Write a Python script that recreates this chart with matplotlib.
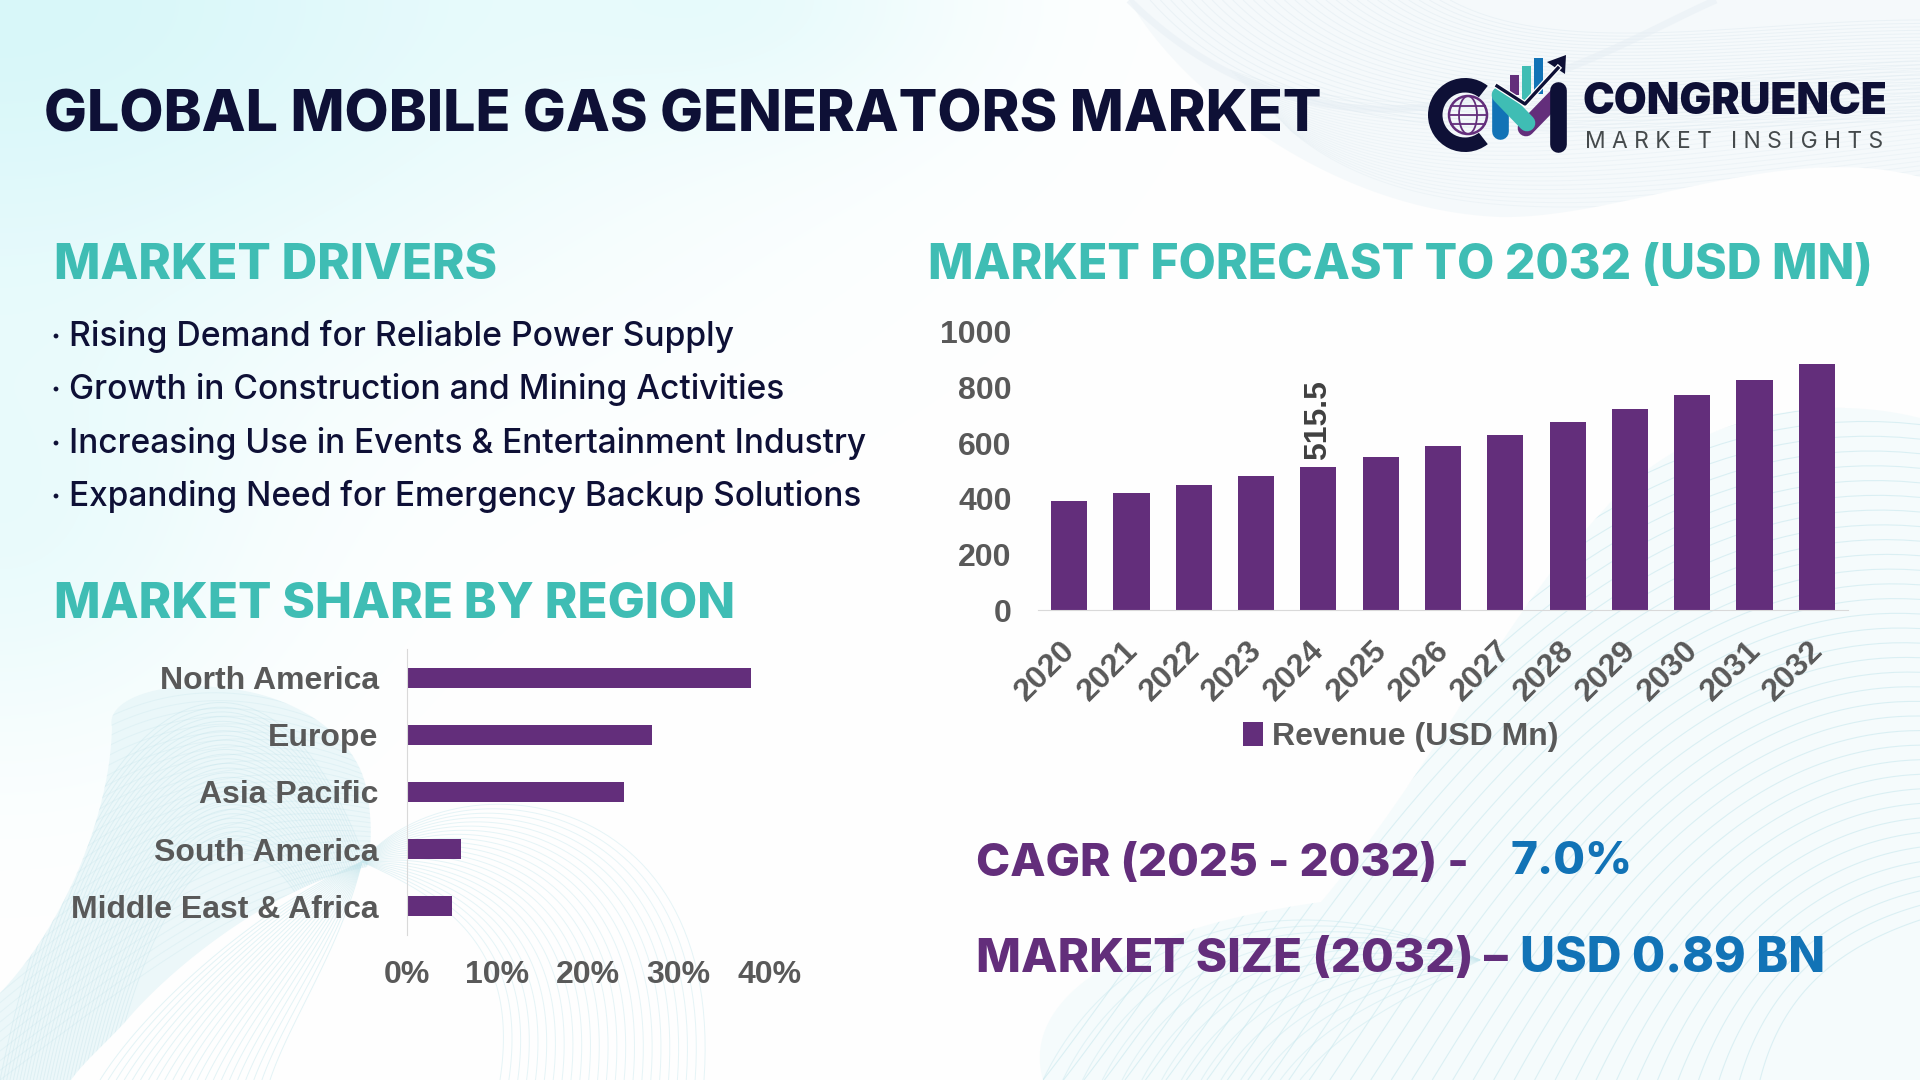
#!/usr/bin/env python3
# -*- coding: utf-8 -*-
"""Global mobile gas generators market infographic."""
import matplotlib
matplotlib.use("Agg")
import matplotlib.pyplot as plt
import matplotlib.transforms as mtrans
import numpy as np
from matplotlib.collections import LineCollection
from matplotlib.patches import Circle, Ellipse, Polygon, Rectangle, Wedge

TITLE = "GLOBAL MOBILE GAS GENERATORS MARKET"
DRIVERS = [
    "Rising Demand for Reliable Power Supply",
    "Growth in Construction and Mining Activities",
    "Increasing Use in Events & Entertainment Industry",
    "Expanding Need for Emergency Backup Solutions",
]
YEARS = [2020, 2021, 2022, 2023, 2024, 2025, 2026, 2027, 2028, 2029, 2030, 2031, 2032]
REVENUE = [392, 421, 450, 482, 515.5, 550, 590, 629, 676, 723, 773, 827, 885]
REGIONS = ["North America", "Europe", "Asia Pacific", "South America", "Middle East & Africa"]
SHARES = [38, 27, 24, 6, 5]

W, H = 1920, 1080
PURPLE = "#632e7b"
TEAL = "#3fbdb4"
NAVY = "#0e1036"
BLUE = "#1273b6"
GREY = "#595959"
HEAD_FONT = "Inter"
CHART_FONT = "Liberation Sans"
CHART_SIZE = 23


def axes_px(fig, left, top, right, bottom):
    """Axes placed by pixel edges, y measured from the top of the image."""
    return fig.add_axes([left / W, 1 - bottom / H, (right - left) / W, (bottom - top) / H])


def fit_text(ax, x, yc, s, width, **kw):
    """Left aligned text, font size scaled so the text is `width` pixels wide."""
    t = ax.text(x, yc, s, ha="left", va="center_baseline", fontsize=30, **kw)
    ext = t.get_window_extent(ax.figure.canvas.get_renderer())
    t.set_fontsize(30 * width / ext.width)
    return t


def bezier(p):
    p = np.array(p, float)
    u = np.linspace(0, 1, 60)[:, None]
    return ((1 - u) ** 3 * p[0] + 3 * (1 - u) ** 2 * u * p[1]
            + 3 * (1 - u) * u ** 2 * p[2] + u ** 3 * p[3])


def outline(*segments):
    return np.vstack([bezier(s) for s in segments])


def mesh(ax, a, b, n, color, alpha, lw=0.7, clip=None):
    """Decorative ribbon: cubic Bezier curves blended between two outlines."""
    a, b = np.array(a, float), np.array(b, float)
    segs = [bezier(a * (1 - k) + b * k) for k in np.linspace(0, 1, n)]
    coll = LineCollection(segs, colors=color, alpha=alpha, linewidths=lw)
    ax.add_collection(coll)
    if clip is not None:
        coll.set_clip_path(clip)


def draw_background(fig):
    ax = fig.add_axes([0, 0, 1, 1], zorder=0)
    yy, xx = np.mgrid[0:H, 0:W]
    glow = (0.95 * np.exp(-((xx / 620.0) ** 2 + (yy / 340.0) ** 2))
            + 0.35 * np.exp(-(((xx - 760) / 220.0) ** 2 + (yy / 130.0) ** 2))
            + 0.45 * np.exp(-((xx / 260.0) ** 2 + ((yy - 540) / 220.0) ** 2)))
    glow = np.clip(glow, 0, 1)[..., None]
    img = 1 - glow * (1 - np.array(matplotlib.colors.to_rgb("#d6f7f9")))
    ax.imshow(img, extent=(0, W, H, 0), aspect="auto", zorder=0)
    ax.set_xlim(0, W)
    ax.set_ylim(H, 0)
    ax.axis("off")

    # top right ribbon
    top_edge = [(1129, 0), (1180, 90), (1330, 210), (1499, 217)]
    top_edge2 = [(1499, 217), (1620, 220), (1780, 140), (1920, 177)]
    fold = [(1129, 0), (1240, 110), (1380, 135), (1528, 83)]
    fold2 = [(1528, 83), (1610, 55), (1670, 20), (1716, 0)]
    pts = np.vstack([outline(top_edge, top_edge2), [(1920, 0)]])
    top = Polygon(pts, fc="#f5f9fb", ec="none", alpha=0.9)
    ax.add_patch(top)
    mesh(ax, [(1150, 0), (1300, 170), (1600, 130), (1920, 120)],
         [(1450, 0), (1560, 60), (1750, 20), (1920, 20)], 30, "#d6e4ec", 0.35, clip=top)
    mesh(ax, [(1290, 130), (1420, 240), (1640, 210), (1920, 175)],
         [(1230, 70), (1420, 140), (1640, 80), (1920, 60)], 26, "#d6e4ec", 0.25, clip=top)
    for seg in (fold, fold2):
        ax.add_collection(LineCollection([bezier(seg)], colors="#e6eef4", linewidths=5, alpha=0.5))

    # bottom left arches behind the ribbon
    mesh(ax, [(704, 1080), (725, 780), (450, 755), (362, 862)],
         [(500, 1080), (520, 950), (450, 900), (362, 862)], 24, "#cdeaef", 0.5)
    mesh(ax, [(362, 862), (270, 900), (150, 1000), (100, 1080)],
         [(362, 862), (340, 950), (290, 1020), (270, 1080)], 22, "#cdeaef", 0.55)

    # bottom left ribbon, clipped to its outline
    pts = np.vstack([outline(
        [(0, 993), (60, 930), (110, 820), (112, 727)],
        [(112, 727), (105, 700), (160, 680), (224, 688)],
        [(224, 688), (300, 695), (360, 740), (367, 793)],
        [(367, 793), (372, 820), (372, 845), (367, 867)],
        [(367, 867), (290, 880), (190, 950), (133, 1013)],
        [(133, 1013), (110, 1040), (85, 1060), (71, 1080)]), [(0, 1080)]])
    blob = Polygon(pts, fc="#e6f5f8", ec="none", alpha=0.75)
    ax.add_patch(blob)
    mesh(ax, [(0, 1080), (90, 640), (280, 600), (372, 880)],
         [(110, 1080), (160, 860), (240, 800), (300, 900)], 34, "#bfe1e9", 0.35, clip=blob)
    mesh(ax, [(0, 800), (120, 670), (260, 660), (400, 760)],
         [(0, 1080), (160, 960), (260, 880), (400, 870)], 30, "#bfe1e9", 0.25, clip=blob)

    # bottom right ribbon
    pts = np.vstack([outline(
        [(1043, 1080), (1020, 1000), (1120, 930), (1321, 902)],
        [(1321, 902), (1440, 760), (1500, 620), (1600, 514)],
        [(1600, 514), (1680, 420), (1810, 390), (1920, 418)]), [(1920, 1080)]])
    right = Polygon(pts, fc="#f4fbfc", ec="none", alpha=0.85)
    ax.add_patch(right)
    mesh(ax, [(1043, 1080), (1200, 880), (1500, 360), (1920, 410)],
         [(1760, 1080), (1780, 1000), (1830, 950), (1920, 920)], 36, "#c9e8ee", 0.6, 0.8, clip=right)
    mesh(ax, [(1043, 1080), (1120, 920), (1300, 880), (1480, 960)],
         [(1300, 1080), (1340, 1030), (1400, 1000), (1480, 960)], 14, "#c9e8ee", 0.45, 0.8, clip=right)


def draw_logo(ax):
    ax.add_patch(Wedge((1465, 115), 37, 52, 308, width=14.5, color=NAVY, lw=0))
    ax.add_patch(Circle((1468, 115), 19, fc="none", ec=PURPLE, lw=1.8))
    ax.add_patch(Ellipse((1468, 115), 18, 38, fc="none", ec=PURPLE, lw=1.3))
    for dy in (-9, 0, 9):
        half = np.sqrt(19 ** 2 - dy ** 2)
        ax.plot([1468 - half, 1468 + half], [115 + dy] * 2, color=PURPLE, lw=1.3)
    ax.add_patch(Rectangle((1510, 75), 9, 20, color=PURPLE, lw=0))
    ax.add_patch(Rectangle((1522, 66), 9, 36, color=TEAL, lw=0))
    ax.add_patch(Rectangle((1534, 58), 9, 36, color=BLUE, lw=0))
    ax.plot([1500, 1500], [95, 131], color=BLUE, lw=12, solid_capstyle="round")
    ax.plot([1526, 1556], [128, 97], color=PURPLE, lw=12, solid_capstyle="round")
    ax.plot([1500, 1527], [95, 123], color=TEAL, lw=12, solid_capstyle="round")
    ax.plot([1558, 1558], [90, 144], color=NAVY, lw=12, solid_capstyle="round")
    ax.plot([1497, 1525, 1558], [86, 104, 68], color="white", lw=4.2)
    ax.plot([1497, 1525, 1558], [86, 104, 68], color=NAVY, lw=2.4)
    ax.add_patch(Polygon([(1566, 55), (1547, 62), (1565, 74)], color=NAVY, lw=0))
    fit_text(ax, 1582, 98, "CONGRUENCE", 305, color=NAVY, family="Inter", fontweight="black")
    fit_text(ax, 1585, 139, "M A R K E T   I N S I G H T S", 299, color="#454a4c",
             family="Inter", fontweight="normal")


def main():
    fig = plt.figure(figsize=(19.2, 10.8), dpi=100, facecolor="white")
    fig.canvas.get_renderer()
    draw_background(fig)

    # revenue forecast bars
    ax = axes_px(fig, 1038, 332, 1848, 610)
    ax.patch.set_visible(False)
    ax.set_zorder(2)
    x = np.arange(len(YEARS))
    ax.bar(x, REVENUE, 0.58, color=PURPLE, label="Revenue (USD Mn)")
    ax.set_xlim(-0.5, len(YEARS) - 0.5)
    ax.set_ylim(0, 1000)
    ax.set_yticks(range(0, 1001, 200))
    ax.set_xticks(x)
    ax.set_xticklabels(YEARS, rotation=45, ha="right", va="top", rotation_mode="anchor")
    ax.tick_params(axis="both", length=0, labelsize=CHART_SIZE, labelcolor=GREY)
    ax.tick_params(axis="y", pad=19)
    ax.tick_params(axis="x", pad=22)
    shift = mtrans.ScaledTranslation(-0.09, 0.05, fig.dpi_scale_trans)
    for lab in ax.get_xticklabels():
        lab.set_transform(lab.get_transform() + shift)
    for lab in ax.get_xticklabels() + ax.get_yticklabels():
        lab.set_fontfamily(CHART_FONT)
        lab.set_fontweight("bold")
    for side in ("top", "right", "left"):
        ax.spines[side].set_visible(False)
    ax.spines["bottom"].set_color("#d9d9d9")
    ax.text(x[4], REVENUE[4] + 25, "515.5", rotation=90, ha="center", va="bottom",
            fontsize=CHART_SIZE, fontweight="bold", family=CHART_FONT, color="#404040")
    ax.legend(loc="center", bbox_to_anchor=(1401 / W, 1 - 737 / H),
              bbox_transform=fig.transFigure, frameon=False, handlelength=0.6,
              handleheight=0.75, handletextpad=0.3,
              prop={"family": CHART_FONT, "weight": "bold", "size": CHART_SIZE},
              labelcolor=GREY)

    # regional share bars
    ax2 = axes_px(fig, 406.5, 649, 769.5, 935)
    ax2.patch.set_visible(False)
    ax2.set_zorder(2)
    y = np.arange(len(REGIONS))
    ax2.barh(y, SHARES, 0.35, color=PURPLE)
    ax2.set_xlim(0, 40)
    ax2.set_ylim(len(REGIONS) - 0.5, -0.5)
    ax2.set_yticks(y)
    ax2.set_yticklabels(REGIONS)
    ax2.set_xticks(range(0, 41, 10))
    ax2.set_xticklabels([f"{v}%" for v in range(0, 41, 10)])
    ax2.tick_params(axis="both", length=0, labelsize=CHART_SIZE, labelcolor=GREY)
    ax2.tick_params(axis="y", pad=20)
    ax2.tick_params(axis="x", pad=18)
    for lab in ax2.get_xticklabels() + ax2.get_yticklabels():
        lab.set_fontfamily(CHART_FONT)
        lab.set_fontweight("bold")
    for side in ("top", "right", "bottom"):
        ax2.spines[side].set_visible(False)
    ax2.spines["left"].set_color("#d9d9d9")

    # text layer in image pixels
    ov = fig.add_axes([0, 0, 1, 1], zorder=3)
    ov.set_xlim(0, W)
    ov.set_ylim(H, 0)
    ov.axis("off")
    head = dict(family=HEAD_FONT, fontweight=800)
    fit_text(ov, 44, 110, TITLE, 1278, color=NAVY, **head)
    fit_text(ov, 54, 261, "MARKET DRIVERS", 444, color=TEAL, **head)
    fit_text(ov, 928, 261, "MARKET FORECAST TO 2032 (USD MN)", 945, color=TEAL, **head)
    fit_text(ov, 54, 600, "MARKET SHARE BY REGION", 682, color=TEAL, **head)
    for yc, line, wd in zip((333, 386, 440, 493), DRIVERS, (665, 716, 798, 793)):
        ov.add_patch(Circle((56, yc + 3), 2.4, color=NAVY, lw=0))
        fit_text(ov, 69, yc, line, wd, color=NAVY, family=HEAD_FONT, fontweight="medium")
    fit_text(ov, 976, 860, "CAGR (2025 - 2032) -", 494, color=PURPLE, **head)
    fit_text(ov, 1510, 858, "7.0%", 122, color=BLUE, **head)
    fit_text(ov, 976, 955, "MARKET SIZE (2032) –", 532, color=PURPLE, **head)
    fit_text(ov, 1520, 954, "USD 0.89 BN", 305, color=BLUE, **head)
    draw_logo(ov)

    fig.savefig("out.png", dpi=100, facecolor="white")
    plt.close(fig)


if __name__ == "__main__":
    main()
